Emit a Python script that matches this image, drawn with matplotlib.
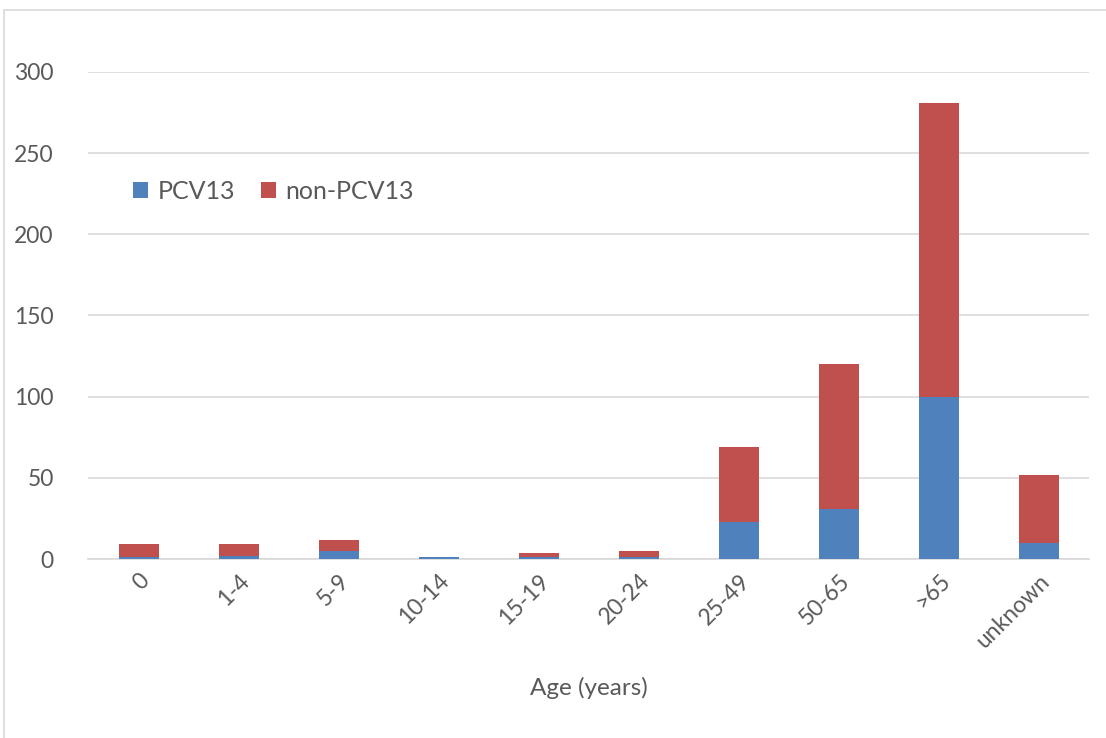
import matplotlib.pyplot as plt
from matplotlib.patches import Rectangle

edades = ['0', '1-4', '5-9', '10-14', '15-19', '20-24', '25-49', '50-65', '>65', 'unknown']
pcv13 = [1, 2, 5, 1, 1, 1, 23, 31, 100, 10]
non_pcv13 = [8, 7, 7, 0, 3, 4, 46, 89, 181, 42]

azul = '#4f81bd'
rojo = '#c0504d'
gris = '#595959'

plt.rcParams['font.family'] = ['Lato', 'DejaVu Sans']

fig = plt.figure(figsize=(11.06, 7.38), dpi=100)
# marco gris del grafico (sale por la derecha y abajo)
fig.patches.append(Rectangle((4 / 1106, -0.1), 1.1, 1.1 - 10 / 738, transform=fig.transFigure,
                             fill=False, edgecolor='#d9d9d9', linewidth=1.2))
ax = fig.add_axes([0.08, 0.2425, 0.905, 0.66])

x = range(len(edades))
ax.bar(x, pcv13, width=0.4, color=azul, label='PCV13', zorder=3)
ax.bar(x, non_pcv13, width=0.4, bottom=pcv13, color=rojo, label='non-PCV13', zorder=3)

ax.set_ylim(0, 300)
ax.set_xlim(-0.5, len(edades) - 0.5)
ax.set_yticks(range(0, 301, 50))
ax.yaxis.grid(True, color='#d9d9d9', linewidth=1.2, zorder=0)
for s in ['top', 'right', 'left']:
    ax.spines[s].set_visible(False)
ax.spines['bottom'].set_color('#d9d9d9')
ax.spines['bottom'].set_linewidth(1.2)
ax.tick_params(length=0, colors=gris, labelsize=16.5)
ax.tick_params(axis='y', pad=25)
ax.tick_params(axis='x', pad=8)
ax.set_xticks(list(x))
ax.set_xticklabels(edades, rotation=45, ha='right', rotation_mode='anchor')
ax.set_xlabel('Age (years)', color=gris, fontsize=17.5, labelpad=18)

ax.legend(loc='upper left', bbox_to_anchor=(0.022, 0.825), ncol=2, frameon=False,
          fontsize=18, handlelength=0.6, handleheight=0.6, columnspacing=1.0,
          handletextpad=0.4, labelcolor=gris)

plt.savefig('out.png')
